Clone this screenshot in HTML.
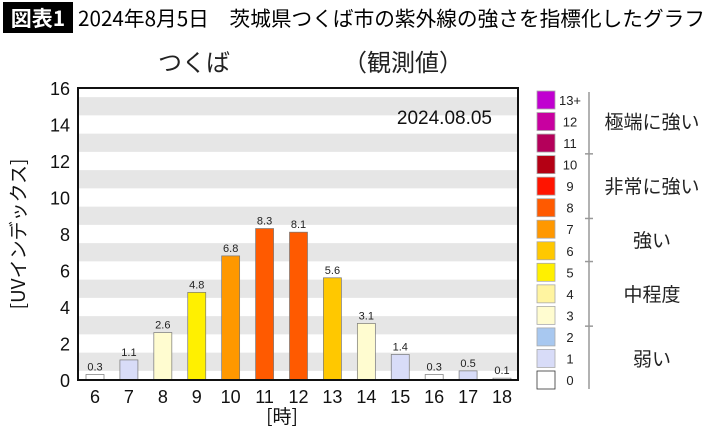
<!DOCTYPE html>
<html><head><meta charset="utf-8">
<style>
body{margin:0;width:710px;height:434px;background:#fff;overflow:hidden;font-family:"Liberation Sans","Noto Sans CJK JP",sans-serif;}
svg{display:block}
</style></head>
<body>
<svg id="c" width="710" height="434" xmlns="http://www.w3.org/2000/svg">
<rect x="3" y="2" width="70" height="31" fill="#000"/>
<text x="38" y="26" font-size="21" font-weight="bold" fill="#fff" text-anchor="middle" font-family="Noto Sans CJK JP, sans-serif">図表1</text>
<text x="78" y="26" font-size="20.5" fill="#000" font-family="Noto Sans CJK JP, sans-serif" textLength="627" lengthAdjust="spacingAndGlyphs">2024年8月5日　茨城県つくば市の紫外線の強さを指標化したグラフ</text>
<text x="158" y="71" font-size="24" fill="#222" font-family="Noto Sans CJK JP, sans-serif">つくば</text>
<text x="343" y="71" font-size="24" fill="#222" font-family="Noto Sans CJK JP, sans-serif">（観測値）</text>
<g id="plot"></g>
<g id="legend"></g>
</svg>
<script>
const hours=[6,7,8,9,10,11,12,13,14,15,16,17,18];
const uvValues=[0.3,1.1,2.6,4.8,6.8,8.3,8.1,5.6,3.1,1.4,0.3,0.5,0.1];
const yTicks=[0,2,4,6,8,10,12,14,16];
const legendLevels=["0","1","2","3","4","5","6","7","8","9","10","11","12","13+"];
const legendColors=["#ffffff","#d8dcf8","#a8c8f0","#fffcd0","#fff4a0","#fff000","#ffc800","#ff9800","#ff5a00","#ff1400","#b40014","#b4005a","#c800a0","#c000d0"];
const categories=["弱い","中程度","強い","非常に強い","極端に強い"];
const categoryCenters=[1,4,6.5,9,12];
const NS="http://www.w3.org/2000/svg";
const L=78,R=518,T=88,B=380,yMax=16;
function y(v){return B-(v/yMax)*(B-T);}
function x(h){return 95+(h-6)*((502-95)/12);}
function mk(t,a,p){const e=document.createElementNS(NS,t);for(const k in a)e.setAttribute(k,a[k]);p.appendChild(e);return e;}
const plot=document.getElementById('plot');
for(let v=1;v<yMax;v+=2){
 const r=mk('rect',{x:L,y:y(v+0.5),width:R-L,height:y(v-0.5)-y(v+0.5),fill:'#e6e6e6'},plot);
 
 
}
function colorFor(v){const i=Math.min(13,Math.round(v));return legendColors[i];}
hours.forEach((h,i)=>{
 const v=uvValues[i];
 const b=mk('rect',{x:x(h)-9,y:y(v),width:18,height:B-y(v),fill:colorFor(v),stroke:'#777','stroke-width':0.7},plot);
 
 
 const t=mk('text',{x:x(h),y:y(v)-4,'font-size':11,'text-anchor':'middle',fill:'#222'},plot);
 t.textContent=v.toFixed(1);
 
 
 const xl=mk('text',{x:x(h),y:B+23,'font-size':18,'text-anchor':'middle',fill:'#111'},plot);
 xl.textContent=h;
 
 
});
yTicks.forEach(v=>{
 const t=mk('text',{x:L-8,y:y(v)+7,'font-size':18,'text-anchor':'end',fill:'#111'},plot);
 t.textContent=v;
 
 
});
const frame=mk('rect',{x:L,y:T,width:R-L,height:B-T,fill:'none',stroke:'#111','stroke-width':2},plot);


const dt=mk('text',{x:492,y:124,'font-size':19,'text-anchor':'end',fill:'#111'},plot);
dt.textContent='2024.08.05';


const xt=mk('text',{x:282,y:423,'font-size':19,'text-anchor':'middle',fill:'#111','font-family':'Noto Sans CJK JP, sans-serif'},plot);
xt.textContent='[時]';


const yt=mk('text',{x:0,y:0,'font-size':19,'text-anchor':'middle',fill:'#111',transform:'translate(25,234) rotate(-90)','font-family':'Noto Sans CJK JP, sans-serif'},plot);
yt.textContent='[UVインデックス]';


const lg=document.getElementById('legend');
function ly(i){return 380-i*(280/13);}
legendLevels.forEach((lv,i)=>{
 const r=mk('rect',{x:537,y:ly(i)-9,width:18,height:18,fill:legendColors[i],stroke:i==0?'#333':'#aaa','stroke-width':0.8},lg);
 
 
 const t=mk('text',{x:570,y:ly(i)+5,'font-size':13,'text-anchor':'middle',fill:'#222'},lg);
 t.textContent=lv;
 
 
});
const vl=mk('line',{x1:589,y1:ly(13)-8,x2:589,y2:ly(0)+9,stroke:'#999','stroke-width':1.5},lg);


[2.5,5.5,7.5,10.5].forEach(b=>{
 const tk=mk('line',{x1:585,y1:ly(b),x2:593,y2:ly(b),stroke:'#999','stroke-width':1.5},lg);
 
 
});
categories.forEach((c,i)=>{
 const t=mk('text',{x:652,y:ly(categoryCenters[i])+7,'font-size':19,'text-anchor':'middle',fill:'#222','font-family':'Noto Sans CJK JP, sans-serif'},lg);
 t.textContent=c;
 
 
});
</script>
</body></html>
